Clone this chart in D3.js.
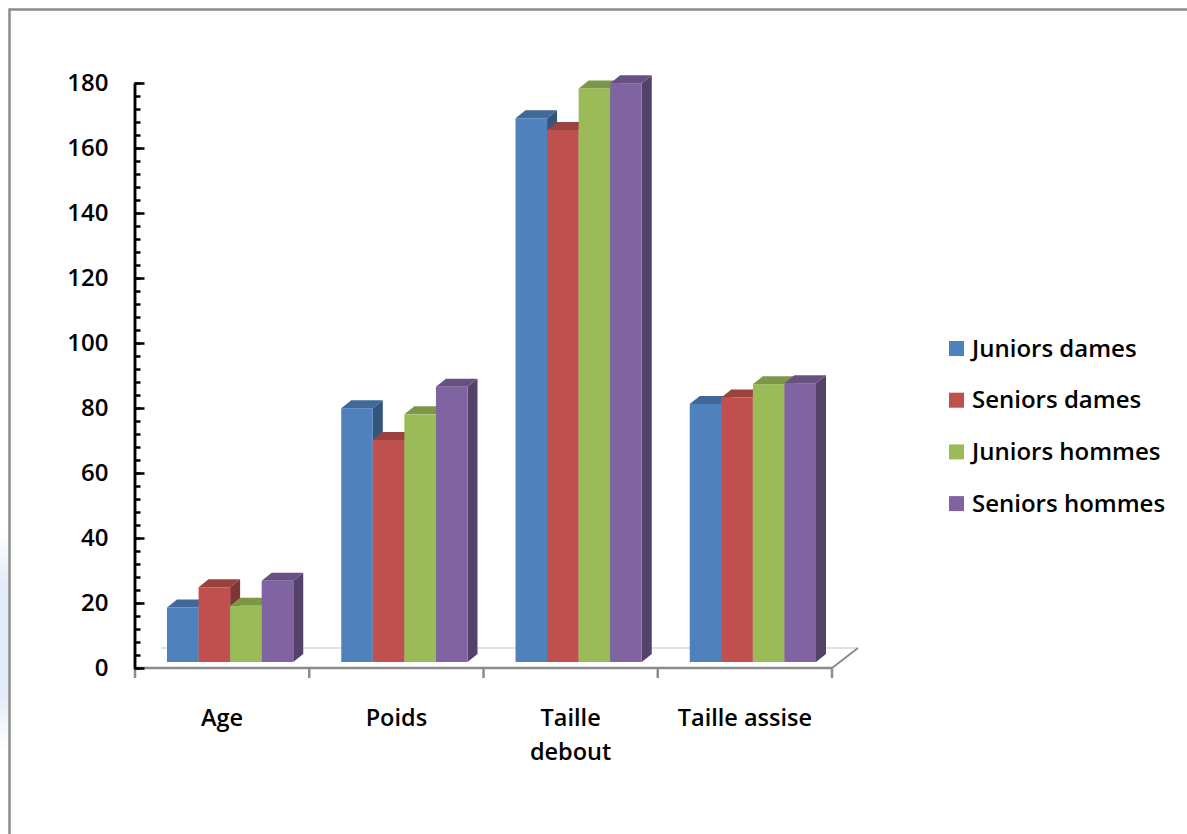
<!DOCTYPE html>
<html>
<head>
<meta charset="utf-8">
<script src="https://cdn.jsdelivr.net/npm/d3@7"></script>
<style>
  html, body { margin: 0; padding: 0; background: #ffffff; }
  svg { display: block; }
  text { font-family: "Open Sans", "Noto Sans", sans-serif; font-weight: 600; fill: #000; }
</style>
</head>
<body>
<svg id="chart" width="1187" height="834"></svg>
<script>
// Anthropometric means by group
const categories = ["Age", "Poids", "Taille debout", "Taille assise"];
const categoryLabels = [["Age"], ["Poids"], ["Taille", "debout"], ["Taille assise"]];
const seriesNames = ["Juniors dames", "Seniors dames", "Juniors hommes", "Seniors hommes"];
const juniorsDames = [16.8, 78.1, 167.3, 79.4];
const seniorsDames = [23.0, 68.3, 163.7, 81.4];
const juniorsHommes = [17.3, 76.2, 176.5, 85.5];
const seniorsHommes = [25.0, 84.7, 178.1, 85.8];
const seriesColors = ["#4F81BD", "#C0504D", "#9BBB59", "#8064A2"];
const yTicks = [0, 20, 40, 60, 80, 100, 120, 140, 160, 180];

const seriesValues = [juniorsDames, seniorsDames, juniorsHommes, seniorsHommes];

const svg = d3.select("#chart");

// Frame and faint slide tint on the left edge
const defs = svg.append("defs");
const haze = defs.append("linearGradient").attr("id", "haze")
  .attr("x1", 0).attr("y1", 0).attr("x2", 0).attr("y2", 1);
haze.append("stop").attr("offset", "0%").attr("stop-color", "#e3ecf9").attr("stop-opacity", 0);
haze.append("stop").attr("offset", "25%").attr("stop-color", "#e3ecf9").attr("stop-opacity", 1);
haze.append("stop").attr("offset", "75%").attr("stop-color", "#e3ecf9").attr("stop-opacity", 1);
haze.append("stop").attr("offset", "100%").attr("stop-color", "#e3ecf9").attr("stop-opacity", 0);
svg.append("rect").attr("x", 0).attr("y", 530).attr("width", 8).attr("height", 220).attr("fill", "url(#haze)");
svg.append("path")
  .attr("d", "M9.5,834 L9.5,9.5 L1187,9.5")
  .attr("fill", "none").attr("stroke", "#8c8c8c").attr("stroke-width", 2.5);

// Plot geometry
const plotLeft = 135, plotRight = 832;
const yAxisScale = d3.scaleLinear().domain([0, 180]).range([668, 83]);
const floorDepth = { dx: 26, dy: -20 };
const barDepth = { dx: 10, dy: -8 };
// bars stand in the middle of the floor's depth
const barShift = { dx: (floorDepth.dx - barDepth.dx) / 2, dy: (floorDepth.dy - barDepth.dy) / 2 };

const x0 = d3.scaleBand().domain(categories).range([plotLeft, plotRight]).padding(0);
const groupInset = 24;
const x1 = d3.scaleBand().domain(seriesNames)
  .range([groupInset, x0.bandwidth() - groupInset]).padding(0);

// Floor
const y0 = yAxisScale(0);
svg.append("path")
  .attr("d", `M${plotLeft + floorDepth.dx},${y0 + floorDepth.dy} L${plotRight + floorDepth.dx},${y0 + floorDepth.dy}`)
  .attr("stroke", "#d9d9d9").attr("stroke-width", 1.5).attr("fill", "none");
svg.append("path")
  .attr("d", `M${plotRight},${y0} L${plotRight + floorDepth.dx},${y0 + floorDepth.dy}`)
  .attr("stroke", "#8c8c8c").attr("stroke-width", 2).attr("fill", "none");

// Bars (front, top and right faces), drawn left to right so nearer faces overlap
const bars = [];
categories.forEach((cat, ci) => {
  seriesNames.forEach((s, si) => {
    bars.push({ cat, s, si, value: seriesValues[si][ci] });
  });
});

const barG = svg.append("g");
bars.forEach(b => {
  const xl = x0(b.cat) + x1(b.s) + barShift.dx;
  const xr = xl + x1.bandwidth();
  const yt = yAxisScale(b.value) + barShift.dy;
  const yb = yAxisScale(0) + barShift.dy;
  const dx = barDepth.dx, dy = barDepth.dy;
  const base = d3.color(seriesColors[b.si]);
  const g = barG.append("g");
  g.append("path")
    .attr("d", `M${xr},${yt} L${xr + dx},${yt + dy} L${xr + dx},${yb + dy} L${xr},${yb} Z`)
    .attr("fill", base.darker(1.15).formatHex());
  g.append("path")
    .attr("d", `M${xl},${yt} L${xl + dx},${yt + dy} L${xr + dx},${yt + dy} L${xr},${yt} Z`)
    .attr("fill", base.darker(0.6).formatHex());
  g.append("rect")
    .attr("x", xl).attr("y", yt)
    .attr("width", x1.bandwidth()).attr("height", yb - yt)
    .attr("fill", base.formatHex());
});

// Horizontal axis (category boundaries)
const xAxisG = svg.append("g");
xAxisG.append("line")
  .attr("x1", plotLeft).attr("x2", plotRight).attr("y1", y0).attr("y2", y0)
  .attr("stroke", "#8c8c8c").attr("stroke-width", 2.5);
const boundaries = categories.map(c => x0(c)).concat([plotRight]);
xAxisG.selectAll("line.tick").data(boundaries).enter().append("line")
  .attr("class", "tick")
  .attr("x1", d => d).attr("x2", d => d)
  .attr("y1", y0).attr("y2", y0 + 10)
  .attr("stroke", "#8c8c8c").attr("stroke-width", 2.5);

const labelG = xAxisG.selectAll("text.cat").data(categories).enter().append("text")
  .attr("class", "cat")
  .attr("text-anchor", "middle")
  .attr("font-size", 23.5);
labelG.each(function(c, i) {
  const t = d3.select(this);
  categoryLabels[i].forEach((line, li) => {
    t.append("tspan")
      .attr("x", x0(c) + x0.bandwidth() / 2)
      .attr("y", 726 + li * 34)
      .text(line);
  });
});

// Vertical axis: minor ticks every 4, major every 20
const minorTicks = d3.range(0, 181, 4);
const yMinor = svg.append("g").attr("transform", `translate(${plotLeft - 0.5},0)`)
  .call(d3.axisRight(yAxisScale).tickValues(minorTicks).tickSize(6).tickSizeOuter(0).tickFormat(""));
const yMajor = svg.append("g").attr("transform", `translate(${plotLeft - 0.5},0)`)
  .call(d3.axisRight(yAxisScale).tickValues(yTicks).tickSize(10).tickSizeOuter(0).tickFormat(""));
[yMinor, yMajor].forEach(g => {
  g.selectAll("line").attr("stroke", "#000").attr("stroke-width", 2.5);
  g.select(".domain").attr("stroke", "#000").attr("stroke-width", 2.5);
});
const yLabels = svg.append("g").attr("transform", `translate(${plotLeft - 0.5},0)`)
  .call(d3.axisLeft(yAxisScale).tickValues(yTicks).tickSize(0).tickPadding(26));
yLabels.select(".domain").remove();
yLabels.selectAll("text")
  .attr("font-family", "\"Open Sans\", \"Noto Sans\", sans-serif")
  .attr("font-weight", 600)
  .attr("font-size", 24)
  .attr("fill", "#000");

// Legend
const legend = svg.append("g");
seriesNames.forEach((name, i) => {
  const cy = 348.5 + i * 51.7;
  legend.append("rect")
    .attr("x", 949).attr("y", cy - 7.5).attr("width", 15).attr("height", 15)
    .attr("fill", seriesColors[i]);
  legend.append("text")
    .attr("x", 972).attr("y", cy + 8)
    .attr("font-size", 24)
    .text(name);
});
</script>
</body>
</html>
